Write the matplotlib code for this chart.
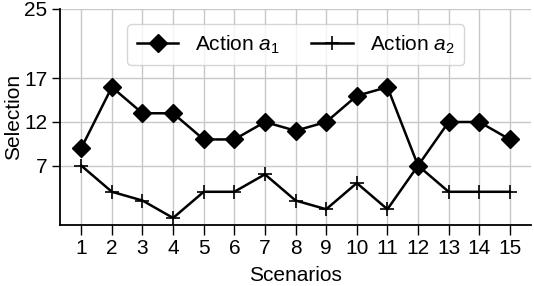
import matplotlib
matplotlib.use("Agg")
import matplotlib.pyplot as plt

scenarios = list(range(1, 16))
action_a1 = [9, 16, 13, 13, 10, 10, 12, 11, 12, 15, 16, 7, 12, 12, 10]
action_a2 = [7, 4, 3, 1, 4, 4, 6, 3, 2, 5, 2, 7, 4, 4, 4]
yticks = [7, 12, 17, 25]

plt.rcParams['font.family'] = ['Liberation Sans', 'DejaVu Sans']
plt.rcParams['mathtext.fontset'] = 'custom'
plt.rcParams['mathtext.it'] = 'Liberation Sans:italic'
plt.rcParams['mathtext.rm'] = 'Liberation Sans'

FS = 15
fig, ax = plt.subplots(figsize=(5.34, 2.86), dpi=100)
ax.plot(scenarios, action_a1, color='black', marker='D', markersize=9.5, lw=1.8, label=r'Action $a_1$')
ax.plot(scenarios, action_a2, color='black', marker='+', markersize=10, mew=1.2, lw=1.8, label=r'Action $a_2$')
ax.set_xticks(scenarios)
ax.set_yticks(yticks)
ax.set_ylim(0.25, 25)
ax.grid(True, color='#c8c8c8', lw=1)
ax.set_axisbelow(True)
for s in ['top', 'right']:
    ax.spines[s].set_visible(False)
ax.spines['left'].set_linewidth(1.3)
ax.spines['bottom'].set_linewidth(1.3)
ax.tick_params(axis='x', labelsize=FS, length=7, width=1)
ax.tick_params(axis='y', labelsize=FS, length=6, width=1, pad=3)
ax.set_xlabel('Scenarios', fontsize=FS, labelpad=6)
ax.set_ylabel('Selection', fontsize=FS, labelpad=1)
ax.legend(loc='upper center', ncol=2, fontsize=FS, frameon=True, bbox_to_anchor=(0.5, 0.975),
          handlelength=2.0, columnspacing=1.5, borderpad=0.45)
fig.subplots_adjust(left=0.112, right=0.995, top=0.97, bottom=0.215)
fig.savefig('out.png', dpi=100)
